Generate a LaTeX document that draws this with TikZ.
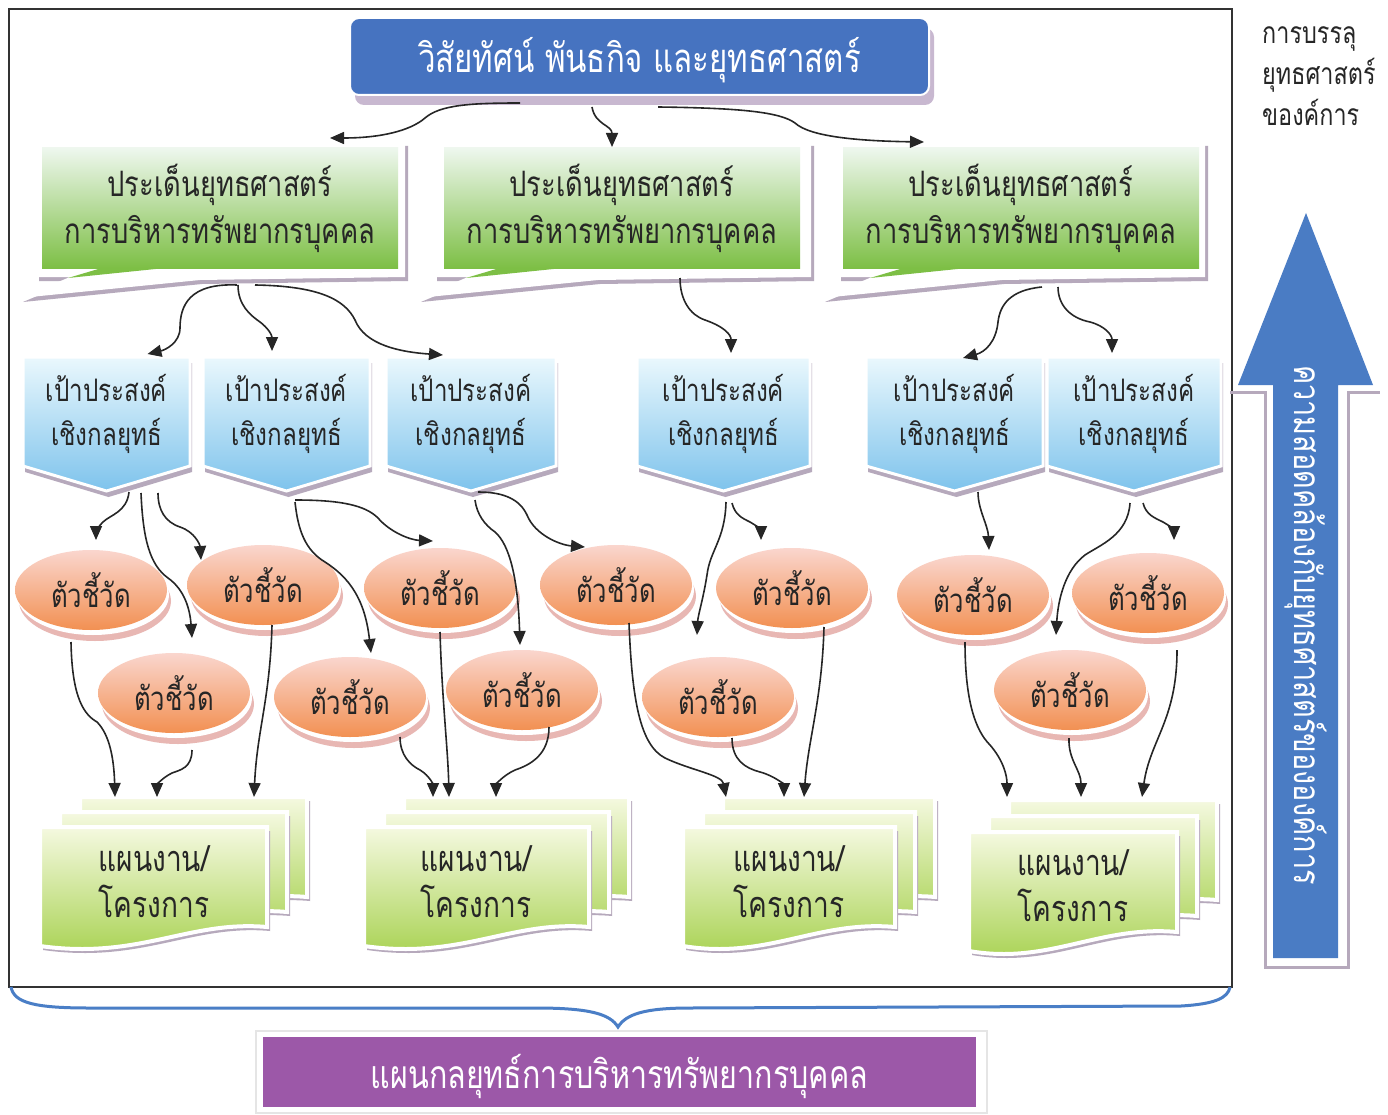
\documentclass[tikz,border=0pt]{standalone}
\usepackage{fontspec}
\newfontfamily\thai[Script=Thai,FakeStretch=0.78]{Loma}
\usetikzlibrary{arrows.meta,shadows,shapes.geometric}
\definecolor{titleblue}{HTML}{4673C0}
\definecolor{arrowblue}{HTML}{4A7CC4}
\definecolor{lav}{HTML}{C8B8D0}
\definecolor{shgray}{HTML}{B6A9BC}
\definecolor{greentop}{HTML}{EEF7EE}
\definecolor{greenmid}{HTML}{CDE8B8}
\definecolor{greenbot}{HTML}{7DBF45}
\definecolor{penttop}{HTML}{EAF8FD}
\definecolor{pentmid}{HTML}{C4E6F6}
\definecolor{pentbot}{HTML}{7EC3EC}
\definecolor{elltop}{HTML}{FAD6CE}
\definecolor{ellmid}{HTML}{F6B29A}
\definecolor{ellbot}{HTML}{F29052}
\definecolor{doctop}{HTML}{F5F9E0}
\definecolor{docmid}{HTML}{D8ECA6}
\definecolor{docbot}{HTML}{A6D14E}
\definecolor{planpurple}{HTML}{9C58A8}
\definecolor{pinksh}{HTML}{E8B7B3}
\definecolor{txt}{HTML}{262626}
\definecolor{bracec}{HTML}{4A7EC6}
\definecolor{framec}{HTML}{333333}
\tikzset{
  conn/.style={line width=1.6pt, draw=black!85, -{Triangle[length=14pt,width=12pt]}},
  titlebox/.style={rectangle, rounded corners=9pt, fill=titleblue, draw=white, line width=2pt,
    minimum width=579pt, minimum height=77pt,
    general shadow={shadow xshift=5pt, shadow yshift=-10pt, fill=lav}},
  titletext/.style={text=white, font=\thai\fontsize{40}{50}\selectfont},
  issuebox/.style={rectangle, minimum width=356pt, minimum height=120pt, inner sep=0pt,
    top color=greentop, middle color=greenmid, bottom color=greenbot, align=center, text=txt,
    font=\thai\fontsize{35}{47}\selectfont},
  pentagonbox/.style={top color=penttop, middle color=pentmid, bottom color=pentbot, draw=white, line width=3pt,
    general shadow={shadow xshift=2pt, shadow yshift=-6pt, fill=shgray}},
  pentext/.style={align=center, text=txt, font=\thai\fontsize{31}{44}\selectfont},
  ell/.style={ellipse, minimum width=152pt, minimum height=80pt, inner sep=0pt,
    top color=elltop, middle color=ellmid, bottom color=ellbot, text=txt,
    font=\thai\fontsize{33}{40}\selectfont,
    general shadow={shadow xshift=4pt, shadow yshift=-11pt, fill=pinksh},
    general shadow={shadow xshift=2pt, shadow yshift=-5pt, fill=white}},
  docpage/.style={top color=doctop, middle color=docmid, bottom color=docbot, draw=white, line width=4pt,
    general shadow={shadow xshift=3pt, shadow yshift=-4pt, fill=shgray}},
  doctext/.style={align=center, text=txt, font=\thai\fontsize{36}{46}\selectfont},
  sidetext/.style={align=left, text=txt, font=\thai\fontsize{30}{41}\selectfont},
  arrtext/.style={text=white, font=\thai\fontsize{37}{40}\selectfont},
  planbox/.style={rectangle, fill=planpurple, minimum width=713pt, minimum height=70pt},
  plantext/.style={text=white, font=\thai\fontsize{39}{44}\selectfont}
}
\begin{document}
\begin{tikzpicture}[x=1pt,y=-1pt]
\useasboundingbox (0,0) rectangle (1388,1115);
\fill[white] (0,0) rectangle (1388,1115);

% frame
\draw[framec, line width=1.3pt] (9,9) rectangle (1232,987);

% title
\node[titlebox] (t) at (639.5,56.5) {};
\node[titletext] (tlabel) at (639.5,60) {วิสัยทัศน์ พันธกิจ และยุทธศาสตร์};

% issue boxes
\foreach \xl/\xr/\nm in {42/398/i1,440/804/i2,844/1198/i3}{
  \fill[shgray] (\xl-3,146) -- (\xr+10,146) -- (\xr+10,281) -- (\xl+160,284) -- (\xl-19,302) -- (\xl+31,281) -- (\xl-3,281) -- cycle;
  \fill[white] (\xl-6,142) -- (\xr+7,142) -- (\xr+7,277) -- (\xl+158,280) -- (\xl-22,298) -- (\xl+28,277) -- (\xl-6,277) -- cycle;
  \fill[greenbot] (\xl+26,278) -- (\xl+63,267) -- (\xl+133,267) -- cycle;
  \node[issuebox] (\nm) at ({(\xl+\xr)/2},208) {ประเด็นยุทธศาสตร์\\การบริหารทรัพยากรบุคคล};
}

% pentagons
\foreach \xa/\xb/\nm in {23/190/p1,203/370/p2,386/556/p3,637/810/p4,866/1043/p5,1047/1221/p6}{
  \path[pentagonbox] (\xa,357) -- (\xb,357) -- (\xb,466) -- ({(\xa+\xb)/2},491) -- (\xa,466) -- cycle;
  \node[pentext] (\nm) at ({(\xa+\xb)/2},414) {เป้าประสงค์\\เชิงกลยุทธ์};
}

% indicators
\foreach \nm/\x/\y in {e1/91/590,e2/263/585,e3/440/588,e4/616/585,e5/792/588,e6/973/595,e7/1148/593,
  e8/174/693,e9/350/697,e10/522/690,e11/718/697,e12/1070/690}{
  \node[ell] (\nm) at (\x,\y) {ตัวชี้วัด};
}

% documents
\foreach \xa/\xb/\top in {80/307/797,60/287/812,40/267/827,
  404/629/797,384/609/812,364/589/827,
  723/935/797,703/915/812,683/895/827,
  1009/1217/800,989/1197/816,969/1177/832}{
  \path[docpage] (\xa,\top) -- (\xb,\top) -- (\xb,\top+100) .. controls (\xb-78,\top+93) and (\xb-128,\top+133) .. (\xa,\top+119) -- cycle;
}
\foreach \nm/\x/\y in {d1/154/882,d2/476/882,d3/789/882,d4/1073/886}{
  \node[doctext] (\nm) at (\x,\y) {แผนงาน/\\โครงการ};
}

% connectors: vision -> issues
\draw[conn] ([shift={(-119.5,46.5)}]t.center) .. controls (470,103) and (440,105) .. (425,118) .. controls (410,131) and (380,138) .. ([shift={(110,-70)}]i1.center);
\draw[conn] ([shift={(-47.5,50.5)}]t.center) .. controls (595,125) and (612,125) .. ([shift={(-10,-61)}]i2.center);
\draw[conn] ([shift={(18.5,50.5)}]t.center) .. controls (740,108) and (780,112) .. (795,123) .. controls (810,137) and (860,141) .. ([shift={(-97,-66)}]i3.center);
% issues -> goals
\draw[conn] ([shift={(17,77)}]i1.center) .. controls (190,283) and (180,305) .. (180,328) .. controls (180,343) and (165,350) .. ([shift={(41,-60)}]p1.center);
\draw[conn] ([shift={(18,77)}]i1.center) .. controls (238,305) and (250,315) .. (260,322) .. controls (268,328) and (272,335) .. ([shift={(-14.5,-63)}]p2.center);
\draw[conn] ([shift={(35,77)}]i1.center) .. controls (320,286) and (345,300) .. (355,320) .. controls (365,345) and (400,352) .. ([shift={(-28,-59)}]p3.center);
\draw[conn] ([shift={(58,70)}]i2.center) .. controls (680,300) and (690,315) .. (705,320) .. controls (725,327) and (731,335) .. ([shift={(7.5,-61)}]p4.center);
\draw[conn] ([shift={(21,79)}]i3.center) .. controls (1010,290) and (1000,305) .. (998,322) .. controls (996,342) and (985,352) .. ([shift={(8.5,-56)}]p5.center);
\draw[conn] ([shift={(37,79)}]i3.center) .. controls (1058,305) and (1070,318) .. (1090,322) .. controls (1105,326) and (1112,335) .. ([shift={(-22,-61)}]p6.center);
% goals -> indicators
\draw[conn] ([shift={(22.5,78)}]p1.center) .. controls (127,512) and (110,515) .. (103,522) .. controls (98,527) and (96,532) .. ([shift={(5,-50)}]e1.center);
\draw[conn] ([shift={(34.5,79)}]p1.center) .. controls (143,540) and (150,565) .. (168,578) .. controls (185,590) and (190,610) .. ([shift={(18,-55)}]e8.center);
\draw[conn] ([shift={(51.5,79)}]p1.center) .. controls (158,510) and (165,522) .. (180,527) .. controls (195,532) and (200,545) .. ([shift={(-62,-25)}]e2.center);
\draw[conn] ([shift={(8.5,86)}]p2.center) .. controls (340,500) and (365,505) .. (378,518) .. controls (390,532) and (410,540) .. ([shift={(-7,-47)}]e3.center);
\draw[conn] ([shift={(8.5,88)}]p2.center) .. controls (298,530) and (305,550) .. (325,562) .. controls (350,578) and (365,600) .. ([shift={(21,-44)}]e9.center);
\draw[conn] ([shift={(7,78)}]p3.center) .. controls (505,492) and (520,500) .. (527,515) .. controls (535,535) and (560,545) .. ([shift={(-31,-38)}]e4.center);
\draw[conn] ([shift={(4,86)}]p3.center) .. controls (477,515) and (485,525) .. (495,532) .. controls (510,545) and (518,580) .. ([shift={(-2,-45)}]e10.center);
\draw[conn] ([shift={(2.5,88)}]p4.center) .. controls (725,540) and (710,550) .. (707,575) .. controls (703,600) and (698,615) .. ([shift={(-21,-62)}]e11.center);
\draw[conn] ([shift={(8.5,89)}]p4.center) .. controls (735,515) and (742,518) .. (750,522) .. controls (757,526) and (761,530) .. ([shift={(-31,-48)}]e5.center);
\draw[conn] ([shift={(23.5,78)}]p5.center) .. controls (978,510) and (988,525) .. ([shift={(16,-45)}]e6.center);
\draw[conn] ([shift={(-4,89)}]p6.center) .. controls (1128,535) and (1100,545) .. (1085,555) .. controls (1065,570) and (1058,600) .. ([shift={(-14,-55)}]e12.center);
\draw[conn] ([shift={(9,89)}]p6.center) .. controls (1146,515) and (1155,518) .. (1163,522) .. controls (1170,526) and (1174,530) .. ([shift={(26,-53)}]e7.center);
% indicators -> plans
\draw[conn] ([shift={(-20,52)}]e1.center) .. controls (72,700) and (85,715) .. (97,722) .. controls (110,735) and (114,760) .. ([shift={(-39,-85)}]d1.center);
\draw[conn] ([shift={(18,57)}]e8.center) .. controls (192,768) and (180,770) .. (172,773) .. controls (162,778) and (157,785) .. ([shift={(3,-85)}]d1.center);
\draw[conn] ([shift={(9,40)}]e2.center) .. controls (270,700) and (257,730) .. ([shift={(100,-85)}]d1.center);
\draw[conn] ([shift={(50,40)}]e9.center) .. controls (400,755) and (410,765) .. (420,770) .. controls (430,776) and (433,785) .. ([shift={(-43,-85)}]d2.center);
\draw[conn] ([shift={(0,44)}]e3.center) .. controls (442,700) and (448,750) .. ([shift={(-27,-85)}]d2.center);
\draw[conn] ([shift={(27,37)}]e10.center) .. controls (549,755) and (530,765) .. (515,770) .. controls (502,776) and (496,785) .. ([shift={(20,-85)}]d2.center);
\draw[conn] ([shift={(13,38)}]e4.center) .. controls (632,700) and (640,745) .. (665,758) .. controls (690,770) and (722,775) .. ([shift={(-63,-85)}]d3.center);
\draw[conn] ([shift={(14,41)}]e11.center) .. controls (732,760) and (745,768) .. (760,772) .. controls (775,776) and (784,785) .. ([shift={(-5,-85)}]d3.center);
\draw[conn] ([shift={(32,39)}]e5.center) .. controls (822,700) and (808,740) .. ([shift={(15,-85)}]d3.center);
\draw[conn] ([shift={(-8,47)}]e6.center) .. controls (965,700) and (975,730) .. (990,745) .. controls (1003,760) and (1007,775) .. ([shift={(-66,-89)}]d4.center);
\draw[conn] ([shift={(-1,48)}]e12.center) .. controls (1068,760) and (1081,770) .. ([shift={(8,-89)}]d4.center);
\draw[conn] ([shift={(29,57)}]e7.center) .. controls (1177,720) and (1150,740) .. ([shift={(69,-89)}]d4.center);

% right side
\node[sidetext, anchor=west, inner sep=0pt] (goal) at (1262,76) {การบรรลุ\\ยุทธศาสตร์\\ของค์การ};
\draw[shgray, line width=3pt] (1230,392) -- (1265,392) -- (1265,967) -- (1348,967) -- (1348,392) -- (1380,392);
\fill[white] (1268,385) rectangle (1344,963);
\fill[arrowblue] (1273,958) -- (1273,385) -- (1238,385) -- (1306,213) -- (1373,385) -- (1338,385) -- (1338,958) -- cycle;
\node[arrtext, rotate=-90] (align) at (1305.5,625) {ความสอดคล้องกับยุทธศาสตร์ขององค์การ};

% brace and plan
\draw[bracec, line width=3pt] (11,987) .. controls (14,1003) and (35,1008) .. (90,1008) -- (536,1008) .. controls (590,1008) and (610,1014) .. (618,1027) .. controls (626,1014) and (645,1008) .. (690,1008) -- (1181,1006) .. controls (1215,1004) and (1228,998) .. (1230,987);
\draw[black!10, line width=1.5pt] (256,1031) rectangle (987,1113);
\node[planbox] (plan) at (619.5,1072) {};
\node[plantext] (planlabel) at (619.5,1076) {แผนกลยุทธ์การบริหารทรัพยากรบุคคล};
\end{tikzpicture}
\end{document}
